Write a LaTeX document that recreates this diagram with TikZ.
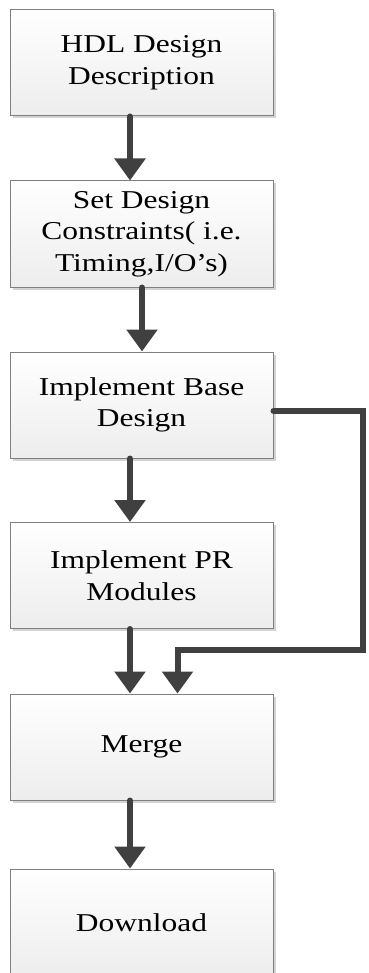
\documentclass[tikz,border=0pt]{standalone}
\usepackage{fontspec}
\setmainfont{Liberation Serif}[FakeStretch=1.225]
\usetikzlibrary{arrows.meta,shadows}
\definecolor{arrowgray}{HTML}{404040}
\definecolor{boxborder}{HTML}{7F7F7F}
\definecolor{boxbottom}{HTML}{EDEDED}
\definecolor{shadowgray}{HTML}{D4D4D4}
\tikzset{
  stepbox/.style={draw=boxborder, line width=1pt, top color=white, bottom color=boxbottom,
    minimum width=263pt, minimum height=106pt, inner sep=0pt, align=center,
    font=\fontsize{25.7}{31.6}\selectfont,
    drop shadow={shadow xshift=2.5pt, shadow yshift=-2.5pt, fill=shadowgray, opacity=1}},
  flowarrow/.style={draw=arrowgray, line width=6pt, line cap=round,
    -{Triangle[width=30pt,length=22pt,line cap=butt]}},
  feedback/.style={draw=arrowgray, line width=6pt, line cap=round, line join=miter,
    -{Triangle[width=30pt,length=22pt,line cap=butt]}}
}
\begin{document}
\begin{tikzpicture}[x=1pt,y=-1pt]
\useasboundingbox (0,0) rectangle (368,973);
\node[stepbox] (b1) at (141.5,63) {HDL Design\\Description};
\node[stepbox] (b2) at (141.5,234) {Set Design\\Constraints( i.e.\\Timing,I/O’s)};
\node[stepbox] (b3) at (141.5,405) {Implement Base\\Design};
\node[stepbox] (b4) at (141.5,575.5) {Implement PR\\Modules};
\node[stepbox] (b5) at (141.5,747) {Merge};
\node[stepbox, minimum height=107pt] (b6) at (141.5,922.5) {Download};
\draw[flowarrow] ([xshift=-11.5pt]b1.south) -- ([xshift=-11.5pt]b2.north);
\draw[flowarrow] ([xshift=0.5pt]b2.south) -- ([xshift=0.5pt]b3.north);
\draw[flowarrow] ([xshift=-11.5pt]b3.south) -- ([xshift=-11.5pt]b4.north);
\draw[flowarrow] ([xshift=-11.5pt]b4.south) -- ([xshift=-11.5pt]b5.north);
\draw[flowarrow] ([xshift=-11.5pt]b5.south) -- ([xshift=-11.5pt]b6.north);
\coordinate (fr) at (363,411);
\coordinate (fb) at (363,650);
\draw[feedback] (b3.east |- fr) -- (fr) -- (fb) -- ([xshift=36pt]b5.north |- fb) -- ([xshift=36pt]b5.north);
\end{tikzpicture}
\end{document}
